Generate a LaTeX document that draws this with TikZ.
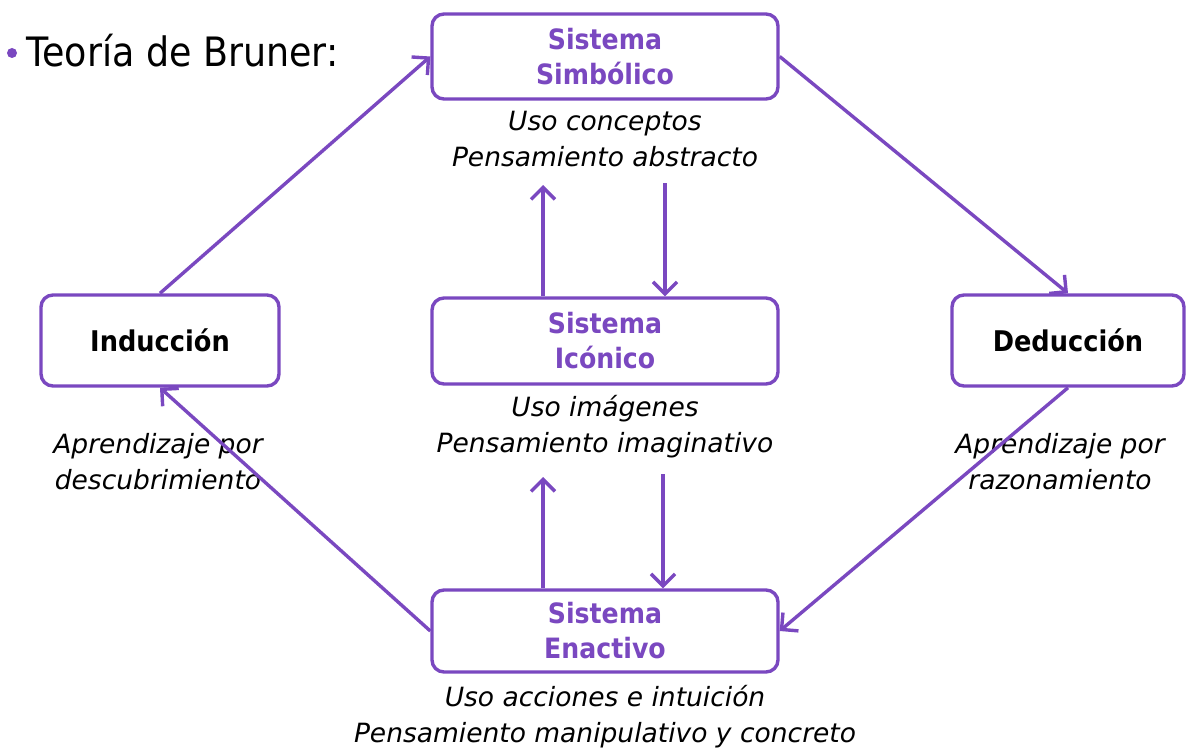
\documentclass[tikz,border=0pt]{standalone}
\usepackage{fontspec}
\setmainfont{DejaVu Sans}[FakeStretch=0.9]
\newfontfamily\descfont{DejaVu Sans}
\usetikzlibrary{arrows.meta}
\definecolor{pur}{RGB}{122,72,192}
\tikzset{
  box/.style={draw=pur, line width=3.4pt, rounded corners=12pt, fill=white, inner sep=0pt, align=center},
  sysbox/.style={box, minimum width=346pt, text=pur, font=\fontsize{28}{35}\selectfont\bfseries},
  sidebox/.style={box, minimum height=91pt, text=black, font=\fontsize{28.5}{35}\selectfont\bfseries},
  desc/.style={align=center, inner sep=0pt, font=\descfont\fontsize{26.5}{36}\selectfont\itshape},
  arr/.style={draw=pur, line width=3.4pt, -{Straight Barb[length=12pt,width=24pt,line width=3.4pt]}},
}
\begin{document}
\begin{tikzpicture}[x=1pt,y=-1pt]
\useasboundingbox (0,0) rectangle (1186,752);
% title
\fill[pur] (12,53) circle (5pt) coordinate (bul);
\node[anchor=west, inner sep=0pt, font=\fontsize{40.5}{44}\selectfont] (title) at (26,51) {Teoría de Bruner:};
% boxes
\node[sysbox, minimum height=85pt] (simb) at (605,56.5) {Sistema\\Simbólico};
\node[sysbox, minimum height=86pt] (icon) at (605,341) {Sistema\\Icónico};
\node[sysbox, minimum height=82pt] (enac) at (605,631) {Sistema\\Enactivo};
\node[sidebox, minimum width=238pt] (ind) at (160,340.5) {Inducción};
\node[sidebox, minimum width=232pt] (ded) at (1068,340.5) {Deducción};
% descriptions
\node[desc] (simbd) at (605,139) {Uso conceptos\\Pensamiento abstracto};
\node[desc] (icond) at (605,427) {Uso imágenes\\Pensamiento imaginativo};
\node[desc] (enacd) at (605,717) {Uso acciones e intuición\\Pensamiento manipulativo y concreto};
\node[desc] (indd) at (158,462) {Aprendizaje por\\descubrimiento};
\node[desc] (dedd) at (1060,462) {Aprendizaje por\\razonamiento};
% vertical arrows
\coordinate (u1) at (543,185);
\coordinate (d1) at (665,183);
\coordinate (u2) at (543,477);
\coordinate (d2) at (663,474);
\draw[arr] (icon.north -| u1) -- (u1);
\draw[arr] (d1) -- (d1 |- icon.north);
\draw[arr] (enac.north -| u2) -- (u2);
\draw[arr] (d2) -- (d2 |- enac.north);
% diagonal arrows
\draw[arr] (ind.north) -- (simb.west);
\draw[arr] (simb.east) -- (ded.north);
\draw[arr] (ded.south) -- (enac.east);
\draw[arr] (enac.west) -- (ind.south);
\end{tikzpicture}
\end{document}
